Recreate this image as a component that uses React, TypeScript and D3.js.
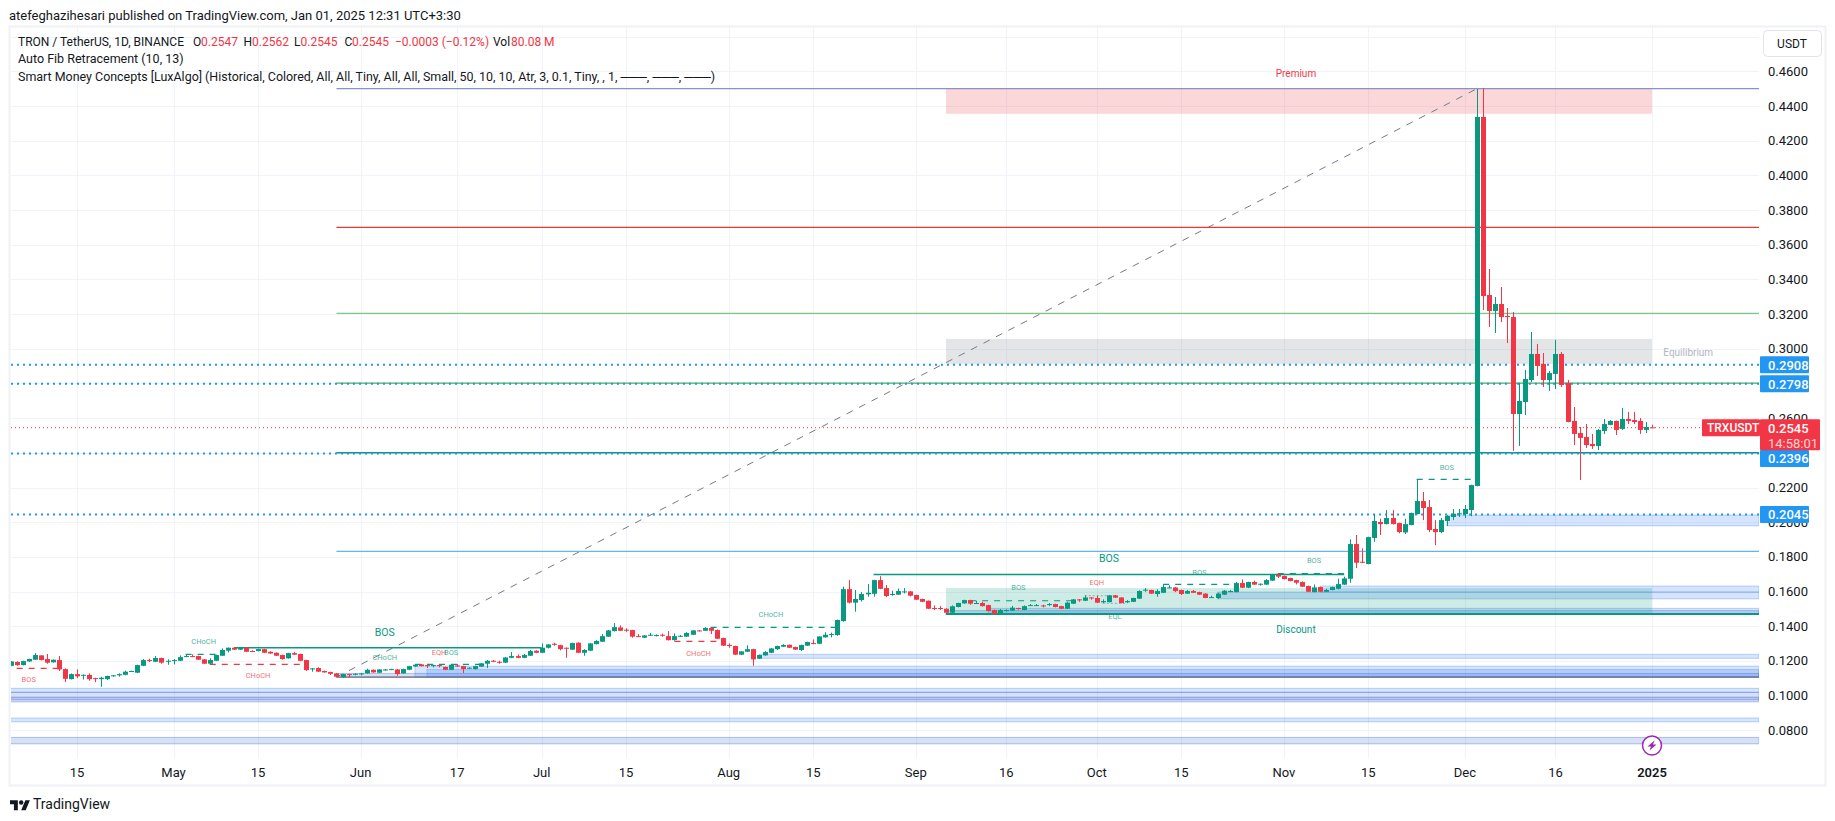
import React, { useRef, useEffect } from 'react';
import * as d3 from 'd3';

// daily candles, first one is 2024-04-04
const firstCandle = '2024-04-04';

const opens = [
  .1172,.1194,.1176,.1197,.1207,.1232,.1211,.1192,.1205,.1153,.1095,
  .1124,.1118,.1119,.1101,.1095,.1095,.1115,.1117,.1120,.1138,
  .1132,.1172,.1205,.1195,.1217,.1199,.1199,.1201,.1224,.1228,
  .1228,.1209,.1184,.1201,.1230,.1259,.1276,.1265,.1276,.1257,
  .1257,.1268,.1253,.1247,.1234,.1215,.1245,.1240,.1205,.1155,
  .1159,.1142,.1136,.1128,.1107,.1124,.1124,.1126,.1128,.1149,
  .1132,.1145,.1151,.1151,.1128,.1149,.1168,.1180,.1176,.1172,
  .1176,.1165,.1149,.1174,.1170,.1159,.1153,.1167,.1184,.1201,
  .1195,.1190,.1218,.1228,.1218,.1230,.1259,.1247,.1276,.1299,
  .1291,.1276,.1265,.1305,.1247,.1259,.1297,.1311,.1340,.1372,
  .1393,.1380,.1378,.1343,.1334,.1347,.1347,.1351,.1343,.1320,
  .1340,.1340,.1351,.1376,.1374,.1390,.1378,.1332,.1292,.1286,
  .1236,.1253,.1268,.1213,.1232,.1247,.1268,.1282,.1293,.1280,
  .1263,.1288,.1303,.1299,.1336,.1351,.1349,.1430,.1614,.1536,
  .1551,.1584,.1587,.1666,.1620,.1584,.1582,.1597,.1601,.1580,
  .1557,.1547,.1505,.1505,.1501,.1478,.1511,.1532,.1551,.1530,
  .1534,.1522,.1494,.1472,.1492,.1490,.1505,.1494,.1520,.1520,
  .1520,.1524,.1528,.1516,.1501,.1530,.1555,.1547,.1566,.1563,
  .1538,.1539,.1578,.1566,.1538,.1541,.1559,.1609,.1609,.1586,
  .1593,.1622,.1624,.1609,.1588,.1603,.1597,.1588,.1566,.1563,
  .1582,.1601,.1597,.1649,.1622,.1655,.1641,.1640,.1663,.1697,
  .1690,.1678,.1666,.1655,.1632,.1597,.1626,.1599,.1609,.1616,
  .1640,.1674,.1874,.1772,.1759,.1909,.2001,.1989,.2024,.1995,
  .1941,.1984,.2047,.2122,.2087,.1961,.1943,.2007,.2030,.2047,
  .2047,.2070,.2209,.4337,.3310,.3218,.3258,.3189,.3183,.2624,
  .2693,.2820,.2970,.2912,.2820,.2855,.2970,.2803,.2584,.2514,
  .2491,.2451,.2439,.2526,.2561,.2584,.2538,.2595,.2589,.2584,
  .2532,.2547,
];

const highs = [
  .1199,.1198,.1201,.1213,.1245,.1234,.1240,.1209,.1228,.1157,.1128,
  .1151,.1122,.1128,.1103,.1109,.1115,.1119,.1128,.1144,.1144,
  .1178,.1211,.1213,.1228,.1219,.1209,.1211,.1232,.1240,.1238,
  .1230,.1211,.1215,.1236,.1272,.1278,.1278,.1280,.1278,.1261,
  .1270,.1270,.1255,.1249,.1236,.1247,.1251,.1242,.1207,.1159,
  .1163,.1144,.1138,.1130,.1126,.1126,.1128,.1130,.1155,.1151,
  .1153,.1153,.1155,.1153,.1155,.1172,.1180,.1182,.1178,.1178,
  .1178,.1167,.1180,.1182,.1172,.1163,.1172,.1188,.1205,.1205,
  .1201,.1222,.1251,.1238,.1240,.1263,.1261,.1301,.1297,.1305,
  .1293,.1278,.1305,.1307,.1268,.1303,.1320,.1355,.1378,.1418,
  .1405,.1388,.1380,.1355,.1349,.1361,.1353,.1357,.1372,.1359,
  .1349,.1366,.1378,.1378,.1395,.1392,.1382,.1334,.1301,.1288,
  .1257,.1290,.1270,.1236,.1257,.1274,.1288,.1297,.1295,.1282,
  .1294,.1311,.1324,.1343,.1365,.1363,.1438,.1628,.1666,.1609,
  .1597,.1643,.1668,.1689,.1638,.1605,.1618,.1620,.1603,.1582,
  .1559,.1549,.1520,.1516,.1503,.1520,.1536,.1553,.1553,.1547,
  .1541,.1524,.1496,.1499,.1497,.1517,.1507,.1520,.1528,.1528,
  .1524,.1534,.1530,.1518,.1541,.1557,.1557,.1578,.1568,.1576,
  .1555,.1580,.1580,.1568,.1551,.1565,.1607,.1620,.1611,.1613,
  .1643,.1636,.1626,.1611,.1609,.1609,.1599,.1591,.1576,.1593,
  .1609,.1609,.1655,.1670,.1657,.1663,.1647,.1672,.1701,.1705,
  .1692,.1680,.1668,.1659,.1634,.1641,.1628,.1616,.1628,.1674,
  .1686,.1901,.1926,.1849,.1916,.2047,.2020,.2070,.2070,.1997,
  .2020,.2055,.2247,.2174,.2128,.2012,.2024,.2041,.2076,.2076,
  .2099,.2216,.4498,.4502,.3460,.3299,.3356,.3235,.3212,.2803,
  .2878,.3097,.3028,.2976,.2872,.3051,.2981,.2820,.2664,.2549,
  .2566,.2509,.2538,.2595,.2589,.2586,.2659,.2636,.2636,.2601,
  .2578,.2562,
];

const lows = [
  .1170,.1172,.1174,.1195,.1205,.1203,.1184,.1190,.1142,.1078,.1093,
  .1101,.1093,.1086,.1078,.1051,.1090,.1109,.1109,.1117,.1136,
  .1130,.1170,.1194,.1193,.1184,.1178,.1180,.1199,.1222,.1222,
  .1205,.1182,.1178,.1199,.1228,.1249,.1263,.1263,.1251,.1251,
  .1255,.1245,.1241,.1228,.1207,.1213,.1234,.1199,.1143,.1138,
  .1136,.1132,.1119,.1107,.1105,.1107,.1117,.1117,.1126,.1132,
  .1130,.1143,.1147,.1115,.1126,.1147,.1166,.1168,.1159,.1163,
  .1163,.1147,.1147,.1165,.1130,.1153,.1151,.1165,.1159,.1193,
  .1184,.1188,.1216,.1216,.1216,.1228,.1245,.1245,.1272,.1288,
  .1261,.1218,.1263,.1245,.1230,.1257,.1295,.1309,.1338,.1370,
  .1372,.1368,.1334,.1339,.1332,.1343,.1341,.1340,.1318,.1317,
  .1338,.1338,.1349,.1370,.1372,.1355,.1326,.1286,.1276,.1234,
  .1234,.1251,.1172,.1211,.1230,.1245,.1263,.1280,.1274,.1263,
  .1257,.1286,.1297,.1297,.1334,.1336,.1345,.1426,.1532,.1484,
  .1542,.1570,.1570,.1614,.1568,.1576,.1580,.1589,.1572,.1551,
  .1539,.1499,.1494,.1494,.1476,.1476,.1509,.1530,.1524,.1528,
  .1514,.1486,.1470,.1468,.1484,.1488,.1495,.1492,.1518,.1518,
  .1509,.1516,.1509,.1499,.1499,.1528,.1541,.1545,.1553,.1534,
  .1534,.1537,.1563,.1532,.1534,.1539,.1557,.1599,.1586,.1570,
  .1591,.1620,.1597,.1580,.1586,.1591,.1580,.1561,.1563,.1557,
  .1580,.1597,.1595,.1620,.1620,.1638,.1634,.1638,.1661,.1678,
  .1670,.1659,.1641,.1626,.1597,.1595,.1597,.1597,.1607,.1612,
  .1638,.1651,.1736,.1764,.1757,.1887,.1926,.1987,.1987,.1936,
  .1932,.1982,.2045,.2012,.1943,.1868,.1937,.1978,.2012,.2030,
  .2024,.2035,.2207,.3224,.3126,.3091,.3154,.3033,.2411,.2440,
  .2618,.2808,.2843,.2780,.2757,.2768,.2780,.2576,.2445,.2243,
  .2428,.2422,.2416,.2509,.2559,.2503,.2532,.2566,.2566,.2509,
  .2514,.2545,
];

const closes = [
  .1197,.1176,.1199,.1211,.1234,.1205,.1190,.1207,.1151,.1097,.1124,
  .1111,.1120,.1095,.1099,.1103,.1113,.1117,.1124,.1138,.1142,
  .1176,.1205,.1201,.1217,.1190,.1201,.1205,.1222,.1228,.1224,
  .1207,.1184,.1205,.1234,.1263,.1276,.1265,.1278,.1253,.1253,
  .1268,.1247,.1243,.1230,.1211,.1245,.1236,.1201,.1147,.1157,
  .1138,.1134,.1126,.1109,.1124,.1120,.1126,.1128,.1149,.1134,
  .1151,.1151,.1153,.1124,.1153,.1170,.1178,.1170,.1170,.1176,
  .1172,.1149,.1178,.1170,.1153,.1161,.1170,.1186,.1201,.1195,
  .1190,.1220,.1228,.1218,.1234,.1257,.1247,.1276,.1295,.1293,
  .1268,.1272,.1303,.1247,.1263,.1301,.1315,.1343,.1376,.1395,
  .1374,.1374,.1340,.1341,.1347,.1351,.1349,.1347,.1320,.1343,
  .1345,.1361,.1376,.1372,.1390,.1374,.1328,.1288,.1290,.1236,
  .1255,.1268,.1209,.1234,.1251,.1272,.1286,.1292,.1276,.1265,
  .1292,.1309,.1299,.1341,.1351,.1355,.1436,.1614,.1536,.1557,
  .1586,.1593,.1666,.1616,.1574,.1586,.1603,.1601,.1576,.1553,
  .1541,.1501,.1501,.1501,.1478,.1515,.1534,.1551,.1530,.1534,
  .1516,.1488,.1472,.1494,.1494,.1507,.1501,.1516,.1522,.1522,
  .1515,.1528,.1511,.1501,.1536,.1555,.1551,.1566,.1563,.1536,
  .1545,.1578,.1565,.1534,.1545,.1563,.1603,.1611,.1588,.1603,
  .1626,.1624,.1603,.1586,.1603,.1593,.1582,.1563,.1568,.1588,
  .1605,.1603,.1649,.1622,.1655,.1640,.1645,.1666,.1699,.1686,
  .1672,.1661,.1651,.1628,.1599,.1624,.1599,.1609,.1626,.1643,
  .1676,.1874,.1766,.1766,.1914,.2007,.1989,.2024,.1989,.1943,
  .1989,.2053,.2122,.2082,.1955,.1943,.2012,.2036,.2049,.2051,
  .2076,.2214,.4337,.3304,.3218,.3258,.3183,.3183,.2624,.2699,
  .2826,.2970,.2901,.2820,.2860,.2970,.2791,.2578,.2509,.2486,
  .2445,.2439,.2532,.2566,.2584,.2532,.2595,.2584,.2578,.2532,
  .2549,.2545,
];

const priceTicks = [.08, .10, .12, .14, .16, .18, .20, .22, .24, .26, .28, .30, .32, .34, .36, .38, .40, .42, .44, .46, .48];
// .24 and .28 sit fully behind the blue tags
const labelledPriceTicks = [.08, .10, .12, .14, .16, .18, .20, .22, .26, .30, .32, .34, .36, .38, .40, .42, .44, .46];

const timeTickDates = ['2024-04-15', '2024-05-01', '2024-05-15', '2024-06-01', '2024-06-17', '2024-07-01', '2024-07-15', '2024-08-01', '2024-08-15', '2024-09-01', '2024-09-16', '2024-10-01', '2024-10-15', '2024-11-01', '2024-11-15', '2024-12-01', '2024-12-16', '2025-01-01'];
const timeTickLabels = ['15', 'May', '15', 'Jun', '17', 'Jul', '15', 'Aug', '15', 'Sep', '16', 'Oct', '15', 'Nov', '15', 'Dec', '16', '2025'];

// fib levels: price, colour, start is always the swing low
const fibStart = '2024-05-28';
const fibPrices = [.4500, .3700, .3204, .2802, .2400, .1832];
const fibColors = ['#8793c3', '#e53935', '#81c784', '#4caf50', '#089981', '#64b5f6'];
const fibBottom = .1107;

const dottedLevels = [.2908, .2798, .2396, .2045];
const lastPrice = .2545;

// premium / equilibrium / discount zones
const zoneStart = '2024-09-06';
const zoneEnd = '2025-01-01';
const zoneTops = [.4500, .3057, .1620];
const zoneBottoms = [.4355, .2912, .1471];
const zoneColors = ['rgba(242,54,69,0.2)', 'rgba(120,123,134,0.2)', 'rgba(8,153,129,0.2)'];

// order blocks, all of them run to the right edge
const blockStarts = ['2024-04-01', '2024-04-01', '2024-04-01', '2024-04-01', '2024-04-01', '2024-05-28', '2024-06-10', '2024-06-12', '2024-08-06', '2024-09-06', '2024-09-13', '2024-10-21', '2024-11-07', '2024-11-28'];
const blockTops = [.1042, .1019, .0990, .0871, .0759, .1128, .1170, .1150, .1238, .1490, .1503, .1597, .1632, .2041];
const blockBottoms = [.1019, .0964, .0976, .0849, .0722, .1107, .1107, .1107, .1215, .1468, .1468, .1558, .1597, .1979];
const blockKinds = ['internal', 'swing', 'swing', 'internal', 'swing', 'swing', 'internal', 'internal', 'internal', 'swing', 'internal', 'internal', 'internal', 'internal'];

// structure lines
const structStarts = ['2024-04-05', '2024-05-03', '2024-05-07', '2024-05-11', '2024-06-10', '2024-07-23', '2024-07-29', '2024-08-25', '2024-09-10', '2024-10-12', '2024-10-31', '2024-11-23'];
const structEnds = ['2024-04-12', '2024-05-09', '2024-05-22', '2024-07-01', '2024-06-22', '2024-07-31', '2024-08-19', '2024-11-11', '2024-09-27', '2024-10-24', '2024-11-11', '2024-12-03'];
const structPrices = [.1157, .1238, .1180, .1276, .1180, .1313, .1393, .1699, .1547, .1642, .1703, .2247];
const structKinds = ['bear', 'bull', 'bear', 'swing', 'bull', 'bear', 'bull', 'swing', 'bull', 'bull', 'bull', 'bull'];

const eqStarts = ['2024-09-29', '2024-10-02'];
const eqEnds = ['2024-10-04', '2024-10-06'];
const eqPrices = [.1576, .1532];

const structTexts = ['BOS', 'CHoCH', 'CHoCH', 'BOS', 'CHoCH', 'EQH', 'BOS', 'CHoCH', 'CHoCH', 'BOS', 'BOS', 'EQH', 'EQL', 'BOS', 'BOS', 'BOS'];
const structTextDates = ['2024-04-07', '2024-05-06', '2024-05-15', '2024-06-05', '2024-06-05', '2024-06-14', '2024-06-16', '2024-07-27', '2024-08-08', '2024-10-03', '2024-09-18', '2024-10-01', '2024-10-04', '2024-10-18', '2024-11-06', '2024-11-28'];
const structTextPrices = [.1095, .1315, .1118, .1366, .1222, .1251, .1251, .1245, .1470, .1793, .1626, .1655, .1459, .1712, .1782, .2318];
const structTextKinds = ['bear', 'bull', 'bear', 'swing', 'bull', 'bear', 'bull', 'bear', 'bull', 'swing', 'bull', 'bear', 'bull', 'bull', 'bull', 'bull'];

const zoneTexts = ['Premium', 'Equilibrium', 'Discount'];
const zoneTextDates = ['2024-11-03', '2025-01-07', '2024-11-03'];
const zoneTextPrices = [.4590, .2981, .1384];
const zoneTextColors = ['#f23645', '#b2b5be', '#089981'];

const legendValues = ['0.2547', '0.2562', '0.2545', '0.2545'];
const legendLetters = ['O', 'H', 'L', 'C'];

const UP = '#089981';
const DOWN = '#f23645';
const BLUE = '#2196f3';
const FONT = 'Roboto, sans-serif';
const TEXT = '#131722';
const GRID = '#f0f3fa';

const day = (s: string) => new Date(s + 'T00:00:00Z');

const App: React.FC = () => {
  const svgRef = useRef<SVGSVGElement>(null);

  useEffect(() => {
    if (!svgRef.current) return;

    const width = 1835;
    const height = 821;
    const plotLeft = 11;
    const plotRight = 1759;
    const plotTop = 27;
    const plotBottom = 758;

    const x = d3.scaleUtc().domain([day('2024-04-15'), day('2025-01-01')]).range([77, 1652]);
    const y = d3.scaleLinear().domain([.08, .46]).range([730.3, 71.3]);
    const xd = (s: string) => x(day(s));

    const candles = opens.map((o, i) => ({
      date: d3.utcDay.offset(day(firstCandle), i),
      o, h: highs[i], l: lows[i], c: closes[i],
    }));

    const svg = d3.select(svgRef.current)
      .attr('viewBox', [0, 0, width, height].join(' '))
      .style('font-family', FONT);

    svg.selectAll('*').remove();

    svg.append('rect').attr('width', width).attr('height', height).attr('fill', '#fff');

    svg.append('text').attr('x', 9).attr('y', 20).attr('font-size', 13).attr('fill', TEXT)
      .text('atefeghazihesari published on TradingView.com, Jan 01, 2025 12:31 UTC+3:30');

    svg.append('rect')
      .attr('x', 9.5).attr('y', 26.5).attr('width', 1816).attr('height', 759)
      .attr('fill', 'none').attr('stroke', '#eff1f6').attr('stroke-width', 2);

    svg.append('clipPath').attr('id', 'plot')
      .append('rect').attr('x', plotLeft).attr('y', plotTop)
      .attr('width', plotRight - plotLeft).attr('height', plotBottom - plotTop);

    const plot = svg.append('g').attr('clip-path', 'url(#plot)');

    // grid
    plot.append('g').selectAll('line').data(priceTicks).join('line')
      .attr('x1', plotLeft).attr('x2', plotRight)
      .attr('y1', d => Math.round(y(d)) + 0.5).attr('y2', d => Math.round(y(d)) + 0.5)
      .attr('stroke', GRID);
    plot.append('g').selectAll('line').data(timeTickDates).join('line')
      .attr('x1', d => Math.round(xd(d)) + 0.5).attr('x2', d => Math.round(xd(d)) + 0.5)
      .attr('y1', plotTop).attr('y2', plotBottom)
      .attr('stroke', GRID);

    // order blocks
    const blockColor = (k: string, a: number) => (k === 'swing' ? `rgba(24,72,204,${a})` : `rgba(49,121,245,${a})`);
    plot.append('g').selectAll('rect').data(blockStarts).join('rect')
      .attr('x', d => xd(d))
      .attr('width', d => plotRight - xd(d))
      .attr('y', (_, i) => y(blockTops[i]))
      .attr('height', (_, i) => y(blockBottoms[i]) - y(blockTops[i]))
      .attr('fill', (_, i) => blockColor(blockKinds[i], blockKinds[i] === 'swing' ? 0.17 : 0.2))
      .attr('stroke', (_, i) => blockColor(blockKinds[i], 0.3));

    // zones
    plot.append('g').selectAll('rect').data(zoneColors).join('rect')
      .attr('x', xd(zoneStart))
      .attr('width', xd(zoneEnd) - xd(zoneStart))
      .attr('y', (_, i) => y(zoneTops[i]))
      .attr('height', (_, i) => y(zoneBottoms[i]) - y(zoneTops[i]))
      .attr('fill', d => d);

    // swing line from low to the top
    plot.append('line')
      .attr('x1', xd(fibStart)).attr('y1', y(fibBottom))
      .attr('x2', xd('2024-12-03')).attr('y2', y(.4500))
      .attr('stroke', '#787b86').attr('stroke-dasharray', '7 7');

    // fib levels
    plot.append('g').selectAll('line').data(fibPrices).join('line')
      .attr('x1', xd(fibStart)).attr('x2', plotRight)
      .attr('y1', d => y(d)).attr('y2', d => y(d))
      .attr('stroke', (_, i) => fibColors[i])
      .attr('stroke-width', (_, i) => (i === 4 ? 1.5 : 1.2));
    plot.append('line')
      .attr('x1', xd(fibStart)).attr('x2', plotRight)
      .attr('y1', y(fibBottom)).attr('y2', y(fibBottom))
      .attr('stroke', '#6b6f80').attr('stroke-width', 1.2);
    plot.append('line')
      .attr('x1', xd(zoneStart)).attr('x2', plotRight)
      .attr('y1', y(zoneBottoms[2])).attr('y2', y(zoneBottoms[2]))
      .attr('stroke', UP).attr('stroke-width', 2);

    // blue dotted levels and last price
    plot.append('g').selectAll('line').data(dottedLevels).join('line')
      .attr('x1', plotLeft).attr('x2', plotRight)
      .attr('y1', d => y(d)).attr('y2', d => y(d))
      .attr('stroke', BLUE).attr('stroke-width', 2).attr('stroke-dasharray', '2 4');
    plot.append('line')
      .attr('x1', plotLeft).attr('x2', plotRight)
      .attr('y1', y(lastPrice)).attr('y2', y(lastPrice))
      .attr('stroke', DOWN).attr('stroke-dasharray', '1 3');

    // structure lines
    const kindColor = (k: string) => (k === 'bear' ? DOWN : UP);
    plot.append('g').selectAll('line').data(structPrices).join('line')
      .attr('x1', (_, i) => xd(structStarts[i])).attr('x2', (_, i) => xd(structEnds[i]))
      .attr('y1', d => y(d)).attr('y2', d => y(d))
      .attr('stroke', (_, i) => kindColor(structKinds[i]))
      .attr('stroke-width', (_, i) => (structKinds[i] === 'swing' ? 1.5 : 1.2))
      .attr('stroke-dasharray', (_, i) => (structKinds[i] === 'swing' ? null : '6 6'));
    plot.append('g').selectAll('line').data(eqPrices).join('line')
      .attr('x1', (_, i) => xd(eqStarts[i])).attr('x2', (_, i) => xd(eqEnds[i]))
      .attr('y1', d => y(d)).attr('y2', d => y(d))
      .attr('stroke', '#a0a3ab').attr('stroke-dasharray', '2 2');

    // candles
    const candle = plot.append('g').selectAll('g').data(candles).join('g')
      .attr('fill', d => (d.c >= d.o ? UP : DOWN));
    candle.append('rect')
      .attr('x', d => Math.round(x(d.date)))
      .attr('width', 1)
      .attr('y', d => y(d.h))
      .attr('height', d => y(d.l) - y(d.h));
    candle.append('rect')
      .attr('x', d => Math.round(x(d.date)) - 2)
      .attr('width', 5)
      .attr('y', d => y(Math.max(d.o, d.c)))
      .attr('height', d => Math.max(1, y(Math.min(d.o, d.c)) - y(Math.max(d.o, d.c))));

    // structure texts
    plot.append('g').attr('text-anchor', 'middle').selectAll('text').data(structTexts).join('text')
      .attr('x', (_, i) => xd(structTextDates[i]))
      .attr('y', (_, i) => y(structTextPrices[i]))
      .attr('dy', '0.35em')
      .attr('font-size', (_, i) => (structTextKinds[i] === 'swing' ? 10.5 : 7.5))
      .attr('fill', (_, i) => kindColor(structTextKinds[i]))
      .attr('fill-opacity', (_, i) => (structTextKinds[i] === 'swing' ? 1 : 0.75))
      .text(d => d);
    plot.append('g').attr('text-anchor', 'middle').selectAll('text').data(zoneTexts).join('text')
      .attr('x', (_, i) => xd(zoneTextDates[i]))
      .attr('y', (_, i) => y(zoneTextPrices[i]))
      .attr('dy', '0.35em')
      .attr('font-size', 10)
      .attr('fill', (_, i) => zoneTextColors[i])
      .text(d => d);

    // legend
    const legend = svg.append('g').attr('font-size', 12).attr('fill', TEXT);
    legend.append('text').attr('x', 18).attr('y', 46).text('TRON / TetherUS, 1D, BINANCE');
    const tokenX = [193, 243.5, 294, 344.5];
    const valueX = [201, 252, 300.5, 352];
    legendLetters.forEach((l, i) => {
      legend.append('text').attr('x', tokenX[i]).attr('y', 46).text(l);
      legend.append('text').attr('x', valueX[i]).attr('y', 46).attr('fill', DOWN).text(legendValues[i]);
    });
    legend.append('text').attr('x', 395).attr('y', 46).attr('fill', DOWN).text('−0.0003 (−0.12%)');
    legend.append('text').attr('x', 493).attr('y', 46).text('Vol');
    legend.append('text').attr('x', 511).attr('y', 46).attr('fill', DOWN).text('80.08 M');
    legend.append('text').attr('x', 18).attr('y', 63).attr('font-size', 12.5).text('Auto Fib Retracement (10, 13)');
    legend.append('text').attr('x', 18).attr('y', 81).attr('font-size', 12.45)
      .text('Smart Money Concepts [LuxAlgo] (Historical, Colored, All, All, Tiny, All, All, Small, 50, 10, 10, Atr, 3, 0.1, Tiny, , 1, ───, ───, ───)');

    // USDT box
    svg.append('rect').attr('x', 1763.5).attr('y', 30.5).attr('width', 58).attr('height', 26).attr('rx', 4)
      .attr('fill', '#fff').attr('stroke', '#e0e3eb');
    svg.append('text').attr('x', 1792).attr('y', 48).attr('text-anchor', 'middle')
      .attr('font-size', 12).attr('fill', TEXT).text('USDT');

    // price axis
    svg.append('g').attr('font-size', 13).attr('fill', TEXT)
      .selectAll('text').data(labelledPriceTicks).join('text')
      .attr('x', 1768).attr('y', d => y(d)).attr('dy', '0.35em')
      .text(d => d3.format('.4f')(d));

    // level tags, the .2396 one gets pushed down by the last price tag
    const tagShift = (d: number) => (d === .2396 ? 5 : 0);
    const tags = svg.append('g').selectAll('g').data(dottedLevels).join('g');
    tags.append('rect').attr('x', 1760).attr('width', 49)
      .attr('y', d => y(d) - 8.5 + tagShift(d)).attr('height', 17).attr('rx', 1).attr('fill', BLUE);
    tags.append('text').attr('x', 1768).attr('y', d => y(d) + tagShift(d)).attr('dy', '0.38em')
      .attr('font-size', 13).attr('font-weight', 500).attr('fill', '#fff')
      .text(d => d3.format('.4f')(d));

    const lastY = y(lastPrice);
    svg.append('rect').attr('x', 1702).attr('y', lastY - 8.5).attr('width', 58).attr('height', 17).attr('rx', 1).attr('fill', DOWN);
    svg.append('text').attr('x', 1707).attr('y', lastY).attr('dy', '0.38em')
      .attr('font-size', 12).attr('font-weight', 500).attr('fill', '#fff').text('TRXUSDT');
    svg.append('rect').attr('x', 1760).attr('y', lastY - 8.5).attr('width', 60).attr('height', 31).attr('rx', 1).attr('fill', DOWN);
    svg.append('text').attr('x', 1768).attr('y', lastY).attr('dy', '0.38em')
      .attr('font-size', 13).attr('font-weight', 500).attr('fill', '#fff').text('0.2545');
    svg.append('text').attr('x', 1768).attr('y', lastY + 15).attr('dy', '0.38em')
      .attr('font-size', 13).attr('fill', '#fff').attr('fill-opacity', 0.8).text('14:58:01');

    // time axis
    svg.append('g').attr('font-size', 13).attr('fill', TEXT).attr('text-anchor', 'middle')
      .selectAll('text').data(timeTickLabels).join('text')
      .attr('x', (_, i) => xd(timeTickDates[i]))
      .attr('y', 772).attr('dy', '0.35em')
      .attr('font-weight', d => (d === '2025' ? 600 : 400))
      .text(d => d);

    // lightning marker on the first of January
    const bolt = svg.append('g').attr('transform', `translate(${xd('2025-01-01')},745.5)`);
    bolt.append('circle').attr('r', 9.5).attr('fill', '#fff').attr('stroke', '#9c27b0').attr('stroke-width', 1.5);
    bolt.append('path').attr('d', 'M2.5 -5 L-4.5 1 L-1 1 L-2.5 5 L4.5 -1 L1 -1 Z').attr('fill', '#9c27b0');

    // logo
    const logo = svg.append('g').attr('transform', 'translate(10,798) scale(0.56)').attr('fill', TEXT);
    logo.append('path').attr('d', 'M14 22H7V11H0V4h14v18ZM28 22h-8l7.5-18h8L28 22Z');
    logo.append('circle').attr('cx', 20).attr('cy', 8).attr('r', 4);
    svg.append('text').attr('x', 33).attr('y', 809).attr('font-size', 14).attr('fill', TEXT).text('TradingView');
  }, []);

  return (
    <svg ref={svgRef} width={1835} height={821} style={{ position: 'absolute', left: 0, top: 0, display: 'block' }}></svg>
  );
};

export default App;
